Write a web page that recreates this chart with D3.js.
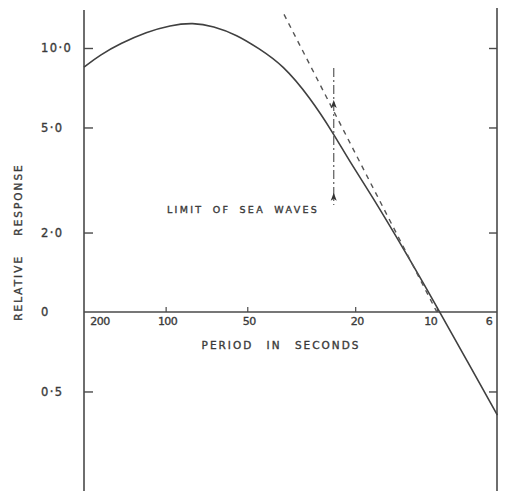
<!DOCTYPE html>
<html>
<head>
<meta charset="utf-8">
<script src="https://cdn.jsdelivr.net/npm/d3@7"></script>
<style>
  body { margin: 0; background: #fff; }
  svg { display: block; }
  text { font-family: "DejaVu Sans", sans-serif; fill: #3a3a3a; stroke: #3a3a3a; stroke-width: 0.35; }
</style>
</head>
<body>
<svg id="chart"></svg>
<script>
// Response curve (period in seconds, relative response)
var periods = [200, 174.6, 147.3, 117.4, 96.3, 79.2, 66.8, 54.5, 45.6, 36.9, 29.3, 24.1, 20.9, 17.6, 13.1, 9.96, 7.73, 5.98];
var responses = [8.47, 9.41, 10.4, 11.5, 12.2, 12.47, 12.11, 11.2, 10.0, 8.62, 6.47, 4.76, 3.7, 2.82, 1.7, 1.04, 0.652, 0.407];

// Dashed asymptote
var asymPeriods = [36.6, 10];
var asymResponses = [13.4, 1.0];

// Limit of sea waves marker
var limitPeriod = 24;
var limitSpan = [8.4, 2.54];
var limitArrows = [6.35, 2.83];

// Tick values and labels
var xTicks = [200, 100, 50, 20, 10, 6];
var xTickLabels = ['200', '100', '50', '20', '10', '6'];
var yTicks = [10, 5, 2, 1, 0.5];
var yTickLabels = ['10·0', '5·0', '2·0', '0', '0·5'];

var width = 505;
var height = 491;
var ink = '#4a4a4a';

var svg = d3.select('#chart')
  .attr('width', width)
  .attr('height', height);

var x = d3.scaleLog()
  .domain([200, 6])
  .range([84, 497]);

var y = d3.scaleLog()
  .domain([1, 10])
  .range([312, 48]);

// Frame: left axis, right axis, unit line
svg.append('line')
  .attr('x1', x(200)).attr('x2', x(200))
  .attr('y1', 10).attr('y2', height)
  .attr('stroke', ink).attr('stroke-width', 1.6);

svg.append('line')
  .attr('x1', x(6)).attr('x2', x(6))
  .attr('y1', 8).attr('y2', height)
  .attr('stroke', ink).attr('stroke-width', 1.6);

svg.append('line')
  .attr('x1', x(200)).attr('x2', x(6))
  .attr('y1', y(1)).attr('y2', y(1))
  .attr('stroke', ink).attr('stroke-width', 1.6);

// Left ticks point inward
var leftAxis = d3.axisRight(y)
  .tickValues(yTicks.filter(function(d) { return d != 1; }))
  .tickSize(9)
  .tickFormat('');

svg.append('g')
  .attr('class', 'y-axis')
  .attr('transform', 'translate(' + x(200) + ',0)')
  .call(leftAxis)
  .call(function(g) {
    g.select('.domain').remove();
    g.selectAll('line').attr('stroke', ink).attr('stroke-width', 1.4);
  });

// Right ticks point inward
var rightAxis = d3.axisLeft(y)
  .tickValues(yTicks.filter(function(d) { return d != 1; }))
  .tickSize(8)
  .tickFormat('');

svg.append('g')
  .attr('class', 'y-axis-right')
  .attr('transform', 'translate(' + x(6) + ',0)')
  .call(rightAxis)
  .call(function(g) {
    g.select('.domain').remove();
    g.selectAll('line').attr('stroke', ink).attr('stroke-width', 1.4);
  });

// Y tick labels, left aligned
svg.append('g')
  .selectAll('text')
  .data(yTicks)
  .enter()
  .append('text')
  .attr('x', 41)
  .attr('y', function(d) { return y(d); })
  .attr('dy', '0.36em')
  .attr('font-size', 11.5)
  .attr('letter-spacing', 1.4)
  .text(function(d, i) { return yTickLabels[i]; });

// Period ticks (upward) on the unit line
var periodAxis = d3.axisTop(x)
  .tickValues(xTicks.filter(function(d) { return d != 200 && d != 6; }))
  .tickSize(5)
  .tickFormat('');

svg.append('g')
  .attr('class', 'x-axis')
  .attr('transform', 'translate(0,' + y(1) + ')')
  .call(periodAxis)
  .call(function(g) {
    g.select('.domain').remove();
    g.selectAll('line').attr('stroke', ink).attr('stroke-width', 1.2);
  });

var xLabelShift = { 200: 16, 10: -6, 6: -8 };
svg.append('g')
  .selectAll('text')
  .data(xTicks)
  .enter()
  .append('text')
  .attr('x', function(d) { return x(d) + (xLabelShift[d] || 2); })
  .attr('y', 325)
  .attr('text-anchor', 'middle')
  .attr('font-size', 11)
  .attr('letter-spacing', -0.5)
  .text(function(d, i) { return xTickLabels[i]; });

// Axis titles
svg.append('text')
  .attr('x', 281)
  .attr('y', 349)
  .attr('text-anchor', 'middle')
  .attr('font-size', 10.5)
  .attr('letter-spacing', 2)
  .attr('word-spacing', 8)
  .text('PERIOD IN SECONDS');

svg.append('text')
  .attr('transform', 'translate(22,242) rotate(-90)')
  .attr('text-anchor', 'middle')
  .attr('font-size', 10.5)
  .attr('letter-spacing', 2)
  .attr('word-spacing', 14)
  .text('RELATIVE RESPONSE');

svg.append('text')
  .attr('x', 243)
  .attr('y', 213)
  .attr('text-anchor', 'middle')
  .attr('font-size', 9.5)
  .attr('letter-spacing', 2.3)
  .attr('word-spacing', 4)
  .text('LIMIT OF SEA WAVES');

// Response curve
var line = d3.line()
  .x(function(d) { return x(d[0]); })
  .y(function(d) { return y(d[1]); })
  .curve(d3.curveBasis);

svg.append('path')
  .datum(d3.zip(periods, responses))
  .attr('d', line)
  .attr('fill', 'none')
  .attr('stroke', '#404040')
  .attr('stroke-width', 1.6);

// Asymptote
svg.append('path')
  .datum(d3.zip(asymPeriods, asymResponses))
  .attr('d', d3.line()
    .x(function(d) { return x(d[0]); })
    .y(function(d) { return y(d[1]); }))
  .attr('fill', 'none')
  .attr('stroke', '#555')
  .attr('stroke-width', 1.4)
  .attr('stroke-dasharray', '5,5');

// Limit of sea waves: dash-dot line with arrowheads
svg.append('line')
  .attr('x1', x(limitPeriod)).attr('x2', x(limitPeriod))
  .attr('y1', y(limitSpan[0])).attr('y2', y(limitSpan[1]))
  .attr('stroke', '#666')
  .attr('stroke-width', 1.3)
  .attr('stroke-dasharray', '9,3,2,3');

svg.append('g')
  .selectAll('path')
  .data(limitArrows)
  .enter()
  .append('path')
  .attr('transform', function(d) { return 'translate(' + x(limitPeriod) + ',' + y(d) + ')'; })
  .attr('d', 'M0,0 L-3,8 L0,6 L3,8 Z')
  .attr('fill', '#333');
</script>
</body>
</html>
